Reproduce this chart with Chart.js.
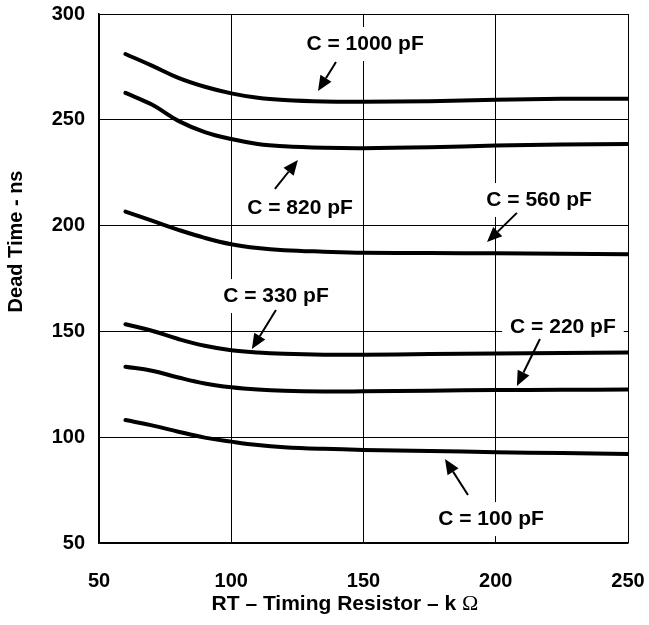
<!DOCTYPE html>
<html>
<head>
<meta charset="utf-8">
<script src="https://cdn.jsdelivr.net/npm/chart.js@4.4.1/dist/chart.umd.min.js"></script>
<style>
  html, body { margin: 0; padding: 0; background: #fff; }
  #wrap { width: 649px; height: 625px; }
</style>
</head>
<body>
<div id="wrap"><canvas id="deadTime" width="649" height="625"></canvas></div>
<script>
// RT timing resistor (kOhm)
const rtValues = [60, 70, 80, 90, 100, 110, 120, 135, 150, 175, 200, 225, 250];

// dead time (ns) per timing capacitor
const dead1000 = [281.1, 275.6, 269.8, 265.6, 262.5, 260.4, 259.3, 258.6, 258.5, 258.8, 259.5, 259.9, 260];
const dead820 = [262.7, 257.2, 249.5, 244.2, 240.9, 238.6, 237.5, 236.8, 236.6, 237, 237.8, 238.3, 238.6];
const dead560 = [206.6, 202.3, 198.0, 194.2, 191.2, 189.4, 188.4, 187.7, 187.2, 187, 186.9, 186.7, 186.5];
const dead330 = [153.4, 150.3, 146.4, 143.2, 141.1, 140, 139.4, 139, 139, 139.3, 139.6, 139.8, 140];
const dead220 = [133.3, 131.4, 128.2, 125.4, 123.6, 122.5, 121.9, 121.6, 121.7, 122, 122.3, 122.4, 122.5];
const dead100 = [108.1, 105.6, 102.6, 99.8, 97.9, 96.3, 95.3, 94.5, 94, 93.5, 92.9, 92.5, 92.1];

const seriesNames = ["C = 1000 pF", "C = 820 pF", "C = 560 pF", "C = 330 pF", "C = 220 pF", "C = 100 pF"];
const seriesValues = [dead1000, dead820, dead560, dead330, dead220, dead100];

const xTicks = [50, 100, 150, 200, 250];
const yTicks = [50, 100, 150, 200, 250, 300];

// callouts in data units: label centre, arrow tail, arrow tip
const callouts = [
    { text: "C = 1000 pF", at: [150.6, 285.8], from: [139.6, 277.3], to: [132.8, 263.6] },
    { text: "C = 820 pF", at: [126.0, 208.3], from: [116.5, 217.3], to: [125.2, 231.0] },
    { text: "C = 560 pF", at: [216.4, 212.1], from: [208.0, 206.0], to: [196.7, 192.2] },
    { text: "C = 330 pF", at: [116.9, 166.7], from: [116.9, 160.1], to: [107.8, 141.7] },
    { text: "C = 220 pF", at: [225.4, 152.1], from: [216.7, 146.4], to: [208.0, 124.2] },
    { text: "C = 100 pF", at: [198.2, 61.3], from: [189.5, 72.7], to: [180.8, 89.7] }
];

const FONT = "'Liberation Sans', Arial, Helvetica, sans-serif";

function arrow(ctx, x1, y1, x2, y2) {
    const ang = Math.atan2(y2 - y1, x2 - x1);
    const head = 15, half = 6.5;
    const bx = x2 - head * Math.cos(ang), by = y2 - head * Math.sin(ang);
    ctx.beginPath();
    ctx.moveTo(x1, y1);
    ctx.lineTo(bx, by);
    ctx.lineWidth = 2;
    ctx.strokeStyle = "#000";
    ctx.stroke();
    ctx.beginPath();
    ctx.moveTo(x2, y2);
    ctx.lineTo(bx + half * Math.sin(ang), by - half * Math.cos(ang));
    ctx.lineTo(bx - half * Math.sin(ang), by + half * Math.cos(ang));
    ctx.closePath();
    ctx.fillStyle = "#000";
    ctx.fill();
}

const calloutPlugin = {
    id: "callouts",
    afterDraw(chart) {
        const ctx = chart.ctx;
        const xs = chart.scales.x, ys = chart.scales.y;
        ctx.save();
        ctx.font = "bold 21px " + FONT;
        ctx.textAlign = "center";
        ctx.textBaseline = "middle";
        callouts.forEach(function (c) {
            const px = xs.getPixelForValue(c.at[0]);
            const py = ys.getPixelForValue(c.at[1]);
            const w = ctx.measureText(c.text).width;
            ctx.fillStyle = "#fff";
            ctx.fillRect(px - w / 2 - 8, py - 17, w + 16, 34);
            ctx.fillStyle = "#000";
            ctx.fillText(c.text, px, py);
            arrow(ctx, xs.getPixelForValue(c.from[0]), ys.getPixelForValue(c.from[1]),
                xs.getPixelForValue(c.to[0]), ys.getPixelForValue(c.to[1]));
        });

        // axis titles
        const area = chart.chartArea;
        ctx.fillStyle = "#000";
        const main = "RT \u2013 Timing Resistor \u2013 k ";
        ctx.font = "bold 21px " + FONT;
        const mw = ctx.measureText(main).width;
        ctx.font = "22px 'Liberation Serif', 'Times New Roman', serif";
        const ow = ctx.measureText("\u03A9").width;
        const tx = xs.getPixelForValue(143) - (mw + ow) / 2;
        const ty = area.bottom + 61;
        ctx.textAlign = "left";
        ctx.font = "bold 21px " + FONT;
        ctx.fillText(main, tx, ty);
        ctx.font = "22px 'Liberation Serif', 'Times New Roman', serif";
        ctx.fillText("\u03A9", tx + mw, ty);

        ctx.translate(16, ys.getPixelForValue(192.5));
        ctx.rotate(-Math.PI / 2);
        ctx.textAlign = "center";
        ctx.font = "bold 20px " + FONT;
        ctx.fillText("Dead Time - ns", 0, 0);
        ctx.restore();
    }
};

document.addEventListener("DOMContentLoaded", function () {
    const ctx = document.getElementById("deadTime").getContext("2d");

    const datasets = seriesValues.map(function (vals, i) {
        return {
            label: seriesNames[i],
            data: rtValues.map(function (x, j) { return { x: x, y: vals[j] }; }),
            borderColor: "#000",
            borderWidth: 4,
            pointRadius: 0,
            fill: false,
            tension: 0.4,
            borderCapStyle: "round"
        };
    });

    new Chart(ctx, {
        type: "line",
        data: { datasets: datasets },
        options: {
            responsive: false,
            animation: false,
            layout: { padding: { top: 14, right: 21, left: 0, bottom: 0 } },
            plugins: {
                legend: { display: false },
                tooltip: { enabled: false }
            },
            scales: {
                x: {
                    type: "linear",
                    min: 50,
                    max: 250,
                    afterBuildTicks: function (scale) {
                        scale.ticks = xTicks.map(function (v) { return { value: v }; });
                    },
                    afterFit: function (scale) {
                        scale.height = 82;
                        scale.paddingLeft = 0;
                        scale.paddingRight = 0;
                    },
                    grid: { color: "#000", lineWidth: 1, drawTicks: false },
                    border: { color: "#000", width: 1.5 },
                    ticks: {
                        color: "#000",
                        padding: 26,
                        maxRotation: 0,
                        font: { family: FONT, size: 20, weight: "bold" }
                    }
                },
                y: {
                    min: 50,
                    max: 300,
                    afterBuildTicks: function (scale) {
                        scale.ticks = yTicks.map(function (v) { return { value: v }; });
                    },
                    afterFit: function (scale) {
                        scale.width = 99;
                        scale.paddingTop = 0;
                        scale.paddingBottom = 0;
                    },
                    grid: { color: "#000", lineWidth: 1, drawTicks: false },
                    border: { color: "#000", width: 1.5 },
                    ticks: {
                        color: "#000",
                        padding: 14,
                        font: { family: FONT, size: 20, weight: "bold" }
                    }
                }
            }
        },
        plugins: [calloutPlugin]
    });
});
</script>
</body>
</html>
